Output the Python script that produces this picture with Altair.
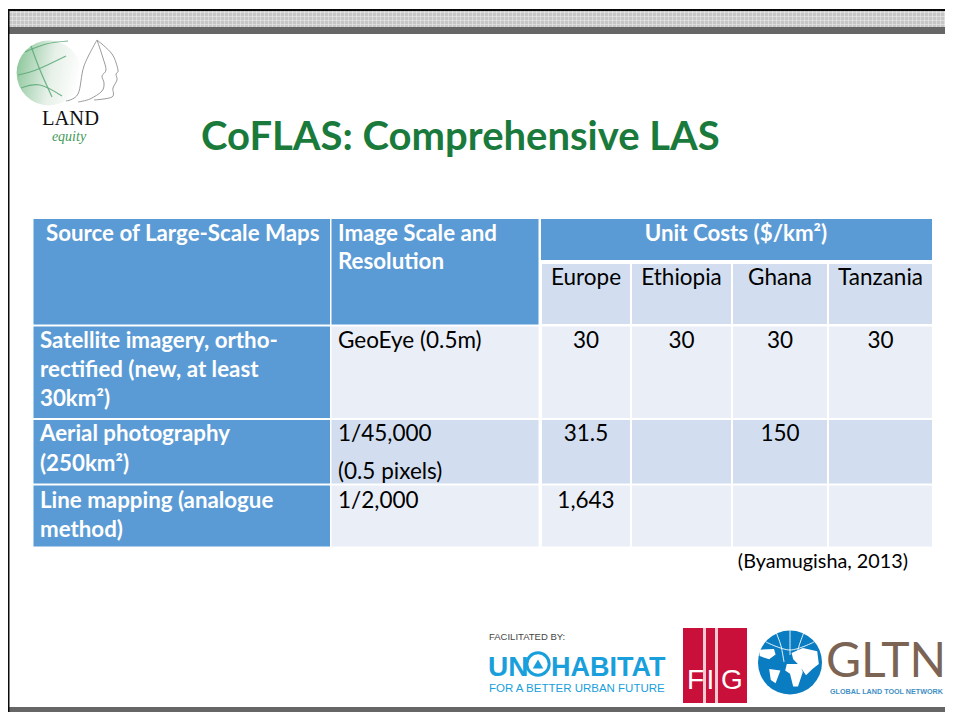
import altair as alt
import pandas as pd

# ---------- table content ----------
title = "CoFLAS: Comprehensive LAS"
source_header = "Source of Large-Scale Maps"
scale_header = ["Image Scale and", "Resolution"]
cost_header = "Unit Costs ($/km²)"
countries = ["Europe", "Ethiopia", "Ghana", "Tanzania"]
source_lines = [
    ["Satellite imagery, ortho-", "rectified (new, at least", "30km²)"],
    ["Aerial photography", "(250km²)"],
    ["Line mapping (analogue", "method)"],
]
scale_lines = [["GeoEye (0.5m)"], ["1/45,000", "(0.5 pixels)"], ["1/2,000"]]
unit_costs = [
    ["30", "30", "30", "30"],
    ["31.5", "", "150", ""],
    ["1,643", "", "", ""],
]
citation = "(Byamugisha, 2013)"

# ---------- slide layout (page pixels) ----------
X0, X1, Y0, Y1 = 8, 945, 8, 712
col_left = [33.5, 331.5, 542, 632, 733, 829]
col_right = [330, 538.5, 630, 731, 827, 932]
row_top = [326.5, 420, 485.5]
row_bottom = [418, 483.5, 546.5]
row_baselines = [[348, 376.5, 405.5], [441, 471, 479], [508, 537]]
HEADER, LIGHT, PALE = "#5b9bd5", "#d2deef", "#e9eef7"
FONT = "Lato"

x_enc = alt.X("x:Q", scale=alt.Scale(domain=[X0, X1], nice=False, zero=False), axis=None)
y_enc = alt.Y("y:Q", scale=alt.Scale(domain=[Y1, Y0], nice=False, zero=False), axis=None)


def rects(rows, color, opacity=1):
    df = pd.DataFrame(rows, columns=["x", "x2", "y", "y2"])
    return alt.Chart(df).mark_rect(color=color, opacity=opacity, strokeWidth=0).encode(
        x=x_enc, x2="x2:Q", y=y_enc, y2="y2:Q"
    )


def texts(rows, size, color="#000000", weight="normal", align="left", font=FONT, style="normal"):
    df = pd.DataFrame(rows, columns=["x", "y", "t"])
    return alt.Chart(df).mark_text(
        fontSize=size, color=color, fontWeight=weight, align=align, font=font,
        baseline="alphabetic", fontStyle=style,
    ).encode(x=x_enc, y=y_enc, text="t:N")


def curves(lines, color, width, opacity=1):
    rows = []
    for i, pts in enumerate(lines):
        for j, (px, py) in enumerate(pts):
            rows.append({"id": i, "o": j, "x": px, "y": py})
    return alt.Chart(pd.DataFrame(rows)).mark_line(
        color=color, strokeWidth=width, opacity=opacity, interpolate="cardinal"
    ).encode(x=x_enc, y=y_enc, detail="id:N", order="o:Q")


def symbol(px, py, size, **kw):
    return alt.Chart(pd.DataFrame({"x": [px], "y": [py]})).mark_point(size=size, **kw).encode(x=x_enc, y=y_enc)


layers = []

# ---------- slide frame ----------
layers.append(rects([(X0, X1, 11, 27)], "#c6c6c6"))
hatch_v = [(x, x + 1, 11, 27) for x in range(X0, X1, 4)]
hatch_h = [(X0, X1, y, y + 1) for y in range(12, 27, 4)]
layers.append(rects(hatch_v + hatch_h, "#ececec", 0.55))
layers.append(rects([(X0, X1, 9, 11)], "#0a0a0a"))
layers.append(rects([(X0, X1, 27, 34)], "#666666"))
layers.append(rects([(X0, X1, 707, Y1)], "#666666"))
layers.append(rects([(X0, 9.5, 9, Y1)], "#0a0a0a"))

# ---------- title ----------
layers.append(texts([(201, 150, title)], 40, "#1a7a3c", "bold"))

# ---------- table ----------
layers.append(rects([(col_left[0], col_right[0], 219, 324.5), (col_left[1], col_right[1], 219, 324.5),
                     (541, col_right[5], 219, 260)], HEADER))
layers.append(rects([(col_left[c], col_right[c], 264, 324) for c in range(2, 6)], LIGHT))
layers.append(rects([(col_left[0], col_right[0], row_top[r], row_bottom[r]) for r in range(3)], HEADER))
body_pale = [(col_left[c], col_right[c], row_top[r], row_bottom[r]) for c in range(1, 6) for r in (0, 2)]
body_light = [(col_left[c], col_right[c], row_top[1], row_bottom[1]) for c in range(1, 6)]
layers.append(rects(body_pale, PALE))
layers.append(rects(body_light, LIGHT))

BOLD, BODY = 22.3, 22.5
layers.append(texts([(46, 241, source_header)], BOLD, "#ffffff", "bold"))
layers.append(texts([(338, 241, scale_header[0]), (338, 269, scale_header[1])], BOLD, "#ffffff", "bold"))
layers.append(texts([(736, 241, cost_header)], BOLD, "#ffffff", "bold", "center"))
layers.append(texts([((col_left[c + 2] + col_right[c + 2]) / 2, 285, n) for c, n in enumerate(countries)],
                    BODY, align="center"))

src_rows = [(40, row_baselines[r][i], line) for r, ls in enumerate(source_lines) for i, line in enumerate(ls)]
layers.append(texts(src_rows, BOLD, "#ffffff", "bold"))
scale_rows = [(338, 348, scale_lines[0][0]), (338, 441, scale_lines[1][0]),
              (338, 478.5, scale_lines[1][1]), (338, 508, scale_lines[2][0])]
layers.append(texts(scale_rows, BODY))
cost_rows = [((col_left[c + 2] + col_right[c + 2]) / 2, row_baselines[r][0], v)
             for r, row in enumerate(unit_costs) for c, v in enumerate(row) if v]
layers.append(texts(cost_rows, BODY, align="center"))
layers.append(texts([(908, 568, citation)], 19.8, align="right"))

# ---------- Land Equity logo ----------
globe_fill = alt.Gradient(gradient="linear", x1=0, x2=1, y1=0.3, y2=0.5, stops=[
    alt.GradientStop(offset=0, color="#8cc79b"), alt.GradientStop(offset=0.55, color="#e6f0e8"),
    alt.GradientStop(offset=1, color="#ffffff")])
layers.append(symbol(49, 73, 4200, shape="circle", filled=True, fill=globe_fill, opacity=1, strokeWidth=0))
layers.append(curves([
    [(31, 46), (40, 70), (52, 97)],
    [(25, 52), (46, 44), (68, 41)],
    [(18, 75), (36, 70), (66, 56)],
    [(21, 88), (40, 85), (62, 96)],
], "#5aa877", 1.2, 0.85))
layers.append(curves([
    [(97, 40), (84, 66), (78, 94), (66, 101)],
    [(97, 40), (103, 58), (106, 70), (102, 76), (104, 83), (102, 91), (90, 99), (78, 102)],
    [(97, 40), (112, 54), (118, 70), (116, 74), (117, 80), (113, 88), (112, 97), (94, 100)],
], "#9a9a9a", 1))
layers.append(texts([(70.5, 125, "LAND")], 20.5, "#111111", align="center", font="Liberation Serif"))
layers.append(texts([(69, 141, "equity")], 14, "#3f9a58", align="center", font="Liberation Serif", style="italic"))

# ---------- partner logos ----------
SANS = "Liberation Sans"
UN_BLUE = "#19a0dc"
layers.append(texts([(489, 640, "FACILITATED BY:")], 9.5, "#444444", font=SANS))
layers.append(texts([(488, 676, "UN")], 28, UN_BLUE, "bold", font=SANS))
layers.append(texts([(551, 676, "HABITAT")], 27, UN_BLUE, "bold", font=SANS))
layers.append(texts([(489, 692, "FOR A BETTER URBAN FUTURE")], 11.5, UN_BLUE, font=SANS))
layers.append(symbol(538, 664, 500, shape="circle", filled=False, color=UN_BLUE, strokeWidth=3, opacity=1))
layers.append(symbol(538, 664, 110, shape="triangle-up", filled=True, color=UN_BLUE, opacity=1, strokeWidth=0))

layers.append(rects([(683, 747, 628, 703)], "#c8103a"))
layers.append(rects([(703, 706, 628, 703), (715, 718, 628, 703)], "#f3c9d2"))
layers.append(texts([(687, 689, "F")], 28, "#ffffff", font=SANS))
layers.append(texts([(710.5, 689, "I")], 28, "#ffffff", align="center", font=SANS))
layers.append(texts([(721, 689, "G")], 28, "#ffffff", font=SANS))

layers.append(symbol(790, 662.5, 4100, shape="circle", filled=True, color="#0a7cc2", opacity=1, strokeWidth=0))
continents = ("M-.95-.4L-.5-.42L-.45-.25L-.65-.1L-.95-.2Z"
              "M-.65.2L-.3.25L-.45.65L-.6.55Z"
              "M.05-.3L.4-.45L.85-.35L.9.05L.7.2L.5.4L.3.1L.1-.1Z"
              "M-.1.05L.3.05L.4.3L.25.75L.1.75L0 .35L-.15.25Z")
layers.append(symbol(790, 662.5, 4100, shape=continents, filled=True, color="#ffffff", opacity=1, strokeWidth=0))
layers.append(curves([
    [(776, 632), (781, 646), (784, 662)],
    [(804, 632), (799, 646), (796, 658)],
    [(766, 642), (790, 650), (814, 642)],
    [(790, 630), (790, 645), (790, 655)],
], "#ffffff", 0.9))
layers.append(texts([(826, 677, "GLTN")], 48, "#7b6454", font="Lato"))
layers.append(texts([(830, 694, "GLOBAL LAND TOOL NETWORK")], 7.2, "#3f8fc4", "bold", font=SANS))

chart = alt.layer(*layers).properties(
    width=X1 - X0, height=Y1 - Y0, padding=0,
    autosize=alt.AutoSizeParams(type="none"), background="#ffffff",
).configure_view(strokeWidth=0)

chart.save("out.html", embed_options={"renderer": "svg", "actions": False})
